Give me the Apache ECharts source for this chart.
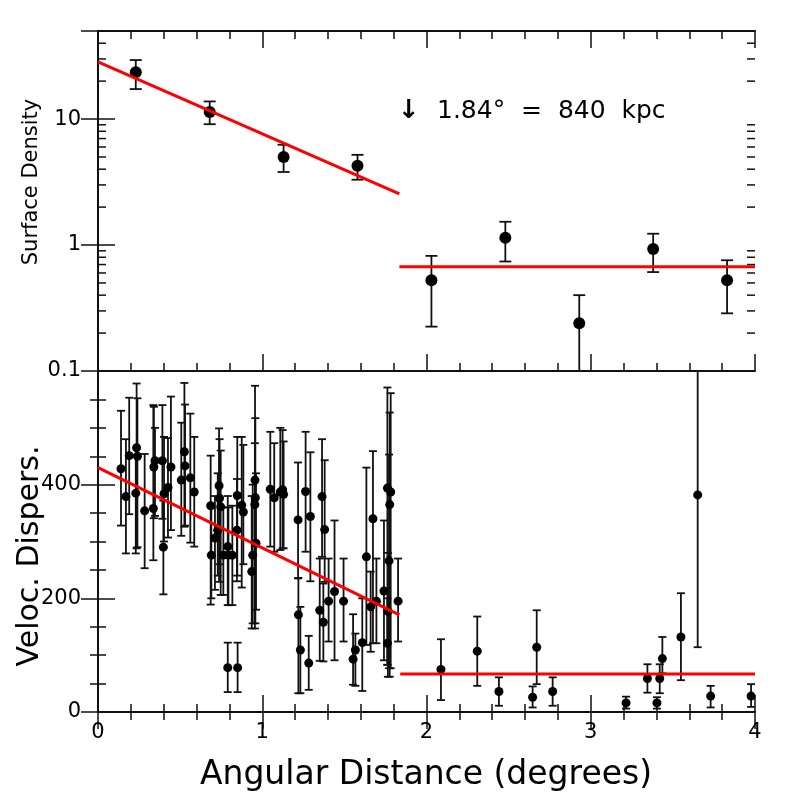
<!DOCTYPE html>
<html>
<head>
<meta charset="utf-8">
<script src="https://cdn.jsdelivr.net/npm/echarts@6/dist/echarts.min.js"></script>
<style>
  html, body { margin: 0; padding: 0; background: #fff; }
  #chart { width: 797px; height: 797px; }
</style>
</head>
<body>
<div id="chart"></div>
<script>
// surface density: [x, value, errLow, errHigh]
const densPoints = [
  [0.23, 23.5, 17.3, 29.4],
  [0.68, 11.4, 9.1, 13.8],
  [1.13, 5.0, 3.8, 6.25],
  [1.58, 4.26, 3.3, 5.2],
  [2.03, 0.525, 0.225, 0.82],
  [2.48, 1.14, 0.74, 1.53],
  [2.93, 0.239, 0.05, 0.40],
  [3.38, 0.93, 0.61, 1.23],
  [3.83, 0.525, 0.287, 0.757]
]
const densFitInner = [[0, 28.5], [1.835, 2.55]]
const densFitOuter = [[1.835, 0.673], [4, 0.673]]
const densMinorTicks = [0.2, 0.3, 0.4, 0.5, 0.6, 0.7, 0.8, 0.9, 2, 3, 4, 5, 6, 7, 8, 9, 20, 30, 40]

// velocity dispersion: [x, value, errLow, errHigh]
const velPoints = [
  [0.14, 428, 328, 530], [0.17, 379, 279, 480], [0.19, 451, 348, 553],
  [0.23, 385, 279, 450], [0.235, 465, 288, 578], [0.24, 450, 290, 552],
  [0.284, 354, 253, 454], [0.337, 358, 267, 540], [0.34, 431, 341, 537],
  [0.347, 442, 345, 500], [0.392, 442, 340, 540], [0.398, 290, 207, 372],
  [0.402, 384, 300, 484], [0.426, 395, 307, 482], [0.444, 431, 320, 555],
  [0.507, 408, 310, 509], [0.526, 458, 326, 579], [0.53, 433, 328, 541],
  [0.562, 412, 298, 525], [0.586, 387, 291, 484],
  [0.686, 363, 189, 451], [0.69, 276, 200, 360], [0.712, 306, 215, 380],
  [0.729, 320, 240, 420], [0.737, 398, 229, 499], [0.74, 376, 260, 480],
  [0.747, 361, 206, 460], [0.763, 276, 206, 360], [0.79, 291, 188, 380],
  [0.794, 276, 188, 360], [0.818, 276, 188, 363], [0.79, 78, 35, 122],
  [0.85, 78, 35, 122], [0.848, 381, 240, 484], [0.846, 320, 230, 410],
  [0.875, 364, 219, 484], [0.885, 352, 260, 470], [0.956, 408, 300, 574],
  [0.958, 377, 156, 517], [0.955, 365, 147, 473], [0.942, 276, 156, 400],
  [0.936, 247, 147, 380], [0.962, 297, 180, 420], [1.049, 392, 291, 493],
  [1.073, 377, 282, 473], [1.11, 387, 285, 500], [1.124, 391, 288, 496],
  [1.13, 383, 288, 476], [1.218, 338, 235, 439], [1.22, 171, 33, 236],
  [1.232, 109, 33, 185], [1.283, 86, 39, 134], [1.264, 388, 282, 493],
  [1.293, 344, 230, 457], [1.364, 379, 273, 480], [1.38, 321, 229, 443],
  [1.35, 179, 90, 270], [1.372, 158, 89, 226], [1.404, 195, 124, 270],
  [1.44, 212, 91, 337], [1.495, 195, 124, 270], [1.553, 93, 48, 172],
  [1.567, 109, 46, 138], [1.609, 122, 37, 200], [1.634, 273, 118, 430],
  [1.674, 340, 121, 459], [1.66, 185, 106, 247], [1.695, 195, 121, 270],
  [1.741, 213, 91, 337], [1.762, 394, 83, 571], [1.782, 387, 77, 561],
  [1.776, 365, 62, 527], [1.772, 266, 77, 453], [1.765, 177, 62, 280],
  [1.762, 121, 83, 200], [1.827, 195, 124, 270],
  [2.088, 75, 21, 128], [2.309, 107, 46, 168], [2.441, 36, 11, 61],
  [2.646, 26, 8, 45], [2.671, 114, 49, 179], [2.768, 36, 11, 61],
  [3.215, 16, 6, 27], [3.345, 59, 34, 84], [3.403, 16, 6, 26],
  [3.42, 59, 33, 84], [3.436, 94, 68, 132], [3.549, 132, 56, 209],
  [3.651, 382, 114, 700], [3.73, 28, 8, 46], [3.976, 28, 9, 49]
]
const velFitInner = [[0, 430], [1.835, 171]]
const velFitOuter = [[1.84, 67], [4, 67]]

const xTicks = [0, 1, 2, 3, 4]
const velTicks = [0, 200, 400]

const FONT = 'DejaVu Sans'
const INK = '#111'

const chart = echarts.init(document.getElementById('chart'), null, {renderer: 'canvas'})

// 误差棒
const errorBars = (half) => (params, api) => {
  const x = api.value(0)
  const top = api.coord([x, api.value(2)])
  const bot = api.coord([x, api.value(1)])
  const style = {stroke: INK, lineWidth: 1.8}
  return {
    type: 'group',
    children: [
      {type: 'line', shape: {x1: top[0], y1: top[1], x2: bot[0], y2: bot[1]}, style},
      {type: 'line', shape: {x1: top[0] - half, y1: top[1], x2: top[0] + half, y2: top[1]}, style},
      {type: 'line', shape: {x1: bot[0] - half, y1: bot[1], x2: bot[0] + half, y2: bot[1]}, style}
    ]
  }
}

// log axis minor ticks (2..9 in each decade), both sides
const logMinor = (params, api) => {
  const v = api.value(0)
  const l = api.coord([0, v])
  const r = api.coord([4, v])
  const style = {stroke: INK, lineWidth: 1.5}
  return {
    type: 'group',
    children: [
      {type: 'line', shape: {x1: l[0], y1: l[1], x2: l[0] + 8, y2: l[1]}, style},
      {type: 'line', shape: {x1: r[0], y1: r[1], x2: r[0] - 8, y2: r[1]}, style}
    ]
  }
}

const frameLine = {lineStyle: {color: INK, width: 2}}
const tick = {inside: true, length: 17, lineStyle: {color: INK, width: 1.5}}
const minor = (n) => ({show: true, splitNumber: n, length: 8, lineStyle: {color: INK, width: 1.5}})
const tickLabel = {color: '#000', fontFamily: FONT, fontSize: 21}

const xAxisBase = (grid, position, labels) => ({
  type: 'value', gridIndex: grid, position, min: 0, max: 4, interval: 1,
  axisLine: frameLine, axisTick: tick, minorTick: minor(5),
  splitLine: {show: false},
  axisLabel: labels
    ? {...tickLabel, margin: 10, formatter: v => xTicks.includes(v) ? String(v) : ''}
    : {show: false}
})

const option = {
  backgroundColor: '#fff',
  animation: false,
  grid: [
    {left: 98, top: 31, width: 657, height: 340},
    {left: 98, top: 371, width: 657, height: 341}
  ],
  xAxis: [
    xAxisBase(0, 'bottom', false),
    xAxisBase(0, 'top', false),
    xAxisBase(1, 'bottom', true),
    xAxisBase(1, 'top', false)
  ],
  yAxis: [
    {
      type: 'log', logBase: 10, gridIndex: 0, position: 'left', min: 0.1, max: 50,
      axisLine: frameLine, axisTick: tick, splitLine: {show: false},
      axisLabel: {...tickLabel, margin: 17, showMaxLabel: false,
        formatter: v => (v > 49 ? '' : String(+v.toPrecision(3)))}
    },
    {
      type: 'log', logBase: 10, gridIndex: 0, position: 'right', min: 0.1, max: 50,
      axisLine: frameLine, axisTick: tick, splitLine: {show: false}, axisLabel: {show: false}
    },
    {
      type: 'value', gridIndex: 1, position: 'left', min: 0, max: 600, interval: 200,
      axisLine: frameLine, axisTick: tick, minorTick: minor(4), splitLine: {show: false},
      axisLabel: {...tickLabel, margin: 17, formatter: v => velTicks.includes(v) ? String(v) : ''}
    },
    {
      type: 'value', gridIndex: 1, position: 'right', min: 0, max: 600, interval: 200,
      axisLine: frameLine, axisTick: tick, minorTick: minor(4), splitLine: {show: false},
      axisLabel: {show: false}
    }
  ],
  graphic: [
    {
      type: 'text', x: 32, y: 182, rotation: Math.PI / 2,
      style: {text: 'Surface Density', fontFamily: FONT, fontSize: 21, fill: '#000',
        align: 'center', verticalAlign: 'middle'}
    },
    {
      type: 'text', x: 30, y: 556, rotation: Math.PI / 2,
      style: {text: 'Veloc. Dispers.', fontFamily: FONT, fontSize: 30, fill: '#000',
        align: 'center', verticalAlign: 'middle'}
    },
    {
      type: 'text', x: 426, y: 775,
      style: {text: 'Angular Distance (degrees)', fontFamily: FONT, fontSize: 33, fill: '#000',
        align: 'center', verticalAlign: 'middle'}
    },
    {
      type: 'text', x: 409, y: 111,
      style: {text: '↓', fontFamily: FONT, fontSize: 26, fontWeight: 'bold', fill: '#000',
        align: 'center', verticalAlign: 'middle'}
    },
    {
      type: 'text', x: 437, y: 111,
      style: {text: '1.84°  =  840  kpc', fontFamily: FONT, fontSize: 25, fill: '#000',
        align: 'left', verticalAlign: 'middle'}
    }
  ],
  series: [
    {
      type: 'custom', xAxisIndex: 0, yAxisIndex: 0, silent: true, z: 1,
      data: densMinorTicks.map(v => [v]), encode: {y: 0},
      renderItem: logMinor
    },
    {
      type: 'custom', xAxisIndex: 0, yAxisIndex: 0, clip: true, z: 2,
      data: densPoints.map(p => [p[0], p[2], p[3]]), encode: {x: 0, y: [1, 2]},
      renderItem: errorBars(6)
    },
    {
      type: 'scatter', xAxisIndex: 0, yAxisIndex: 0, z: 3,
      symbol: 'circle', symbolSize: 12, itemStyle: {color: '#000', opacity: 1},
      data: densPoints.map(p => [p[0], p[1]])
    },
    {
      type: 'line', xAxisIndex: 0, yAxisIndex: 0, z: 4, symbol: 'none',
      lineStyle: {color: '#ff0000', width: 3}, data: densFitInner
    },
    {
      type: 'line', xAxisIndex: 0, yAxisIndex: 0, z: 4, symbol: 'none',
      lineStyle: {color: '#ff0000', width: 3}, data: densFitOuter
    },
    {
      type: 'custom', xAxisIndex: 2, yAxisIndex: 2, clip: true, z: 2,
      data: velPoints.map(p => [p[0], p[2], p[3]]), encode: {x: 0, y: [1, 2]},
      renderItem: errorBars(4)
    },
    {
      type: 'scatter', xAxisIndex: 2, yAxisIndex: 2, z: 3,
      symbol: 'circle', symbolSize: 9, itemStyle: {color: '#000', opacity: 1},
      data: velPoints.map(p => [p[0], p[1]])
    },
    {
      type: 'line', xAxisIndex: 2, yAxisIndex: 2, z: 4, symbol: 'none',
      lineStyle: {color: '#ff0000', width: 3}, data: velFitInner
    },
    {
      type: 'line', xAxisIndex: 2, yAxisIndex: 2, z: 4, symbol: 'none',
      lineStyle: {color: '#ff0000', width: 3}, data: velFitOuter
    }
  ]
}

chart.setOption(option)
</script>
</body>
</html>
